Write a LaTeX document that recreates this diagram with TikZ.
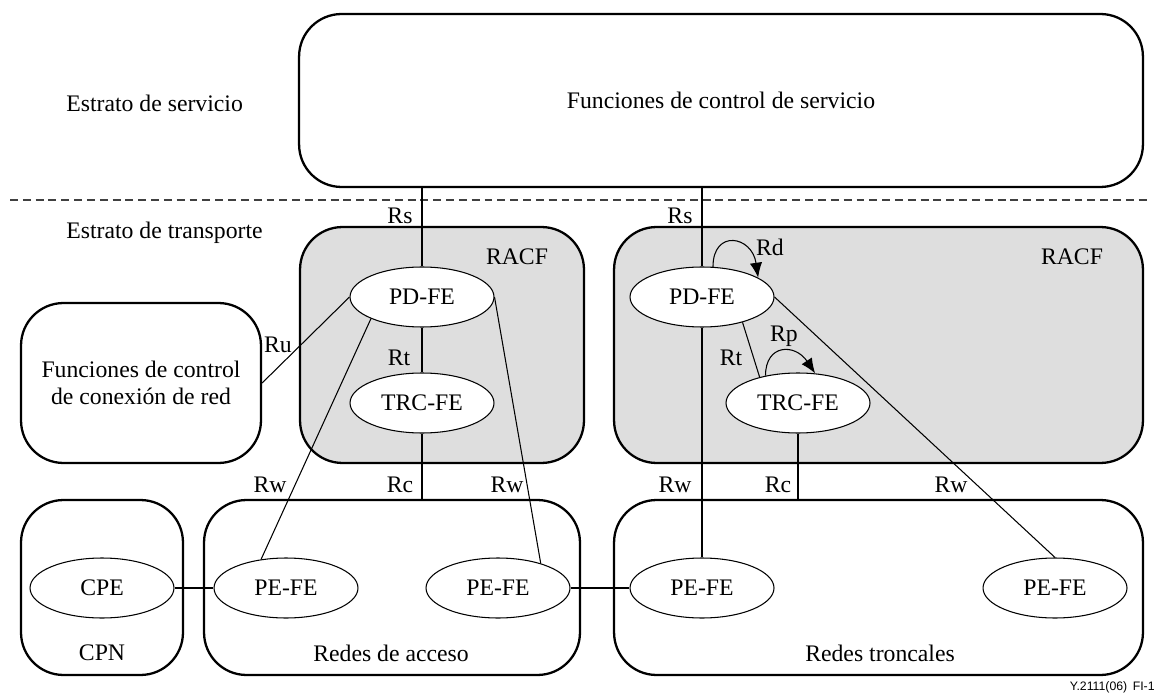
\documentclass[tikz,border=0pt]{standalone}
\usepackage{fontspec}
\setmainfont{Liberation Serif}
\newfontfamily\capfont{Liberation Sans}
\usetikzlibrary{arrows.meta,shapes.geometric}

\begin{document}
\begin{tikzpicture}[x=0.02cm,y=-0.02cm,
    font=\fontsize{13.5}{15.3}\selectfont,
    box/.style={draw,line width=1.3pt,rounded corners=0.85cm,inner sep=0pt},
    racf/.style={box,fill=black!13},
    fe/.style={draw,ellipse,line width=0.6pt,fill=white,minimum width=2.88cm,minimum height=1.2cm,inner sep=0pt},
    link/.style={line width=0.6pt},
    selfarc/.style={link,-{Latex[length=8.5pt,width=7pt]}},
    lbl/.style={inner sep=0pt}]
            \useasboundingbox (0,0) rectangle (1158,695);
            \draw [line width=0.6pt,black!75,dash pattern=on 4.5pt off 2.8pt] (10,200) -- (1148,200);
            \node [box,minimum width=16.88cm,minimum height=3.46cm] (SCF) at (721,100.5) {Funciones de control de servicio};
            \node [box,minimum width=4.8cm,minimum height=3.2cm,align=center] (NCF) at (141,383) {Funciones de control\\de conexión de red};
            \node [racf,minimum width=5.68cm,minimum height=4.72cm] (RACFL) at (442,345) {};
            \node [racf,minimum width=10.58cm,minimum height=4.72cm] (RACFR) at (878.5,345) {};
            \node [box,minimum width=3.24cm,minimum height=3.5cm] (CPN) at (102,587.5) {};
            \node [box,minimum width=7.52cm,minimum height=3.5cm] (RA) at (392,587.5) {};
            \node [box,minimum width=10.58cm,minimum height=3.5cm] (RT) at (878.5,587.5) {};
            \node [fe] (PDL) at (422,297) {PD-FE};
            \node [fe] (TRCL) at (422,403) {TRC-FE};
            \node [fe] (PDR) at (702,297) {PD-FE};
            \node [fe] (TRCR) at (798,403) {TRC-FE};
            \node [fe] (CPE) at (102,588) {CPE};
            \node [fe] (PEA) at (286,588) {PE-FE};
            \node [fe] (PEB) at (498,588) {PE-FE};
            \node [fe] (PEC) at (702,588) {PE-FE};
            \node [fe] (PED) at (1055,588) {PE-FE};
            \draw [link] (PDL.north) -- (PDL.north |- SCF.south);
            \draw [link] (PDR.north) -- (PDR.north |- SCF.south);
            \draw [link] (PDL) -- (TRCL);
            \draw [link] (TRCL.south) -- (TRCL.south |- RA.north);
            \draw [link] (TRCR.south) -- (TRCR.south |- RT.north);
            \draw [link] (PDR) -- (PEC);
            \draw [link] (PDR.-32) -- (TRCR.146);
            \draw [link] (PDR.east) -- (PED.north);
            \draw [link] (PDL.west) -- (NCF.east);
            \draw [link] (PDL.203) -- (PEA.131);
            \draw [link] (PDL.east) -- (PEB.30);
            \draw [link] (CPE) -- (PEA);
            \draw [link] (PEB) -- (PEC);
            \draw [selfarc] (PDR.70) .. controls +(0,-38) and +(-6,-42) .. (PDR.19);
            \draw [selfarc] (TRCR.140) .. controls +(0,-32) and +(-20,-30) .. (TRCR.60);
            \node [lbl,anchor=west] (SS) at (66,103) {Estrato de servicio};
            \node [lbl,anchor=west] (ST) at (66,233) {Estrato de transporte};
            \node [lbl] (RACFLt) at (517,257) {RACF};
            \node [lbl] (RACFRt) at (1072,257) {RACF};
            \node [lbl] (CPNt) at (102,653) {CPN};
            \node [lbl] (RAt) at (391,653) {Redes de acceso};
            \node [lbl] (RTt) at (880,653) {Redes troncales};
            \node [lbl] (RsL) at (400,216) {Rs};
            \node [lbl] (RsR) at (680,216) {Rs};
            \node [lbl] (RtL) at (399,358) {Rt};
            \node [lbl] (RtR) at (731,358) {Rt};
            \node [lbl] (Ru) at (278,345) {Ru};
            \node [lbl] (Rd) at (770,247) {Rd};
            \node [lbl] (Rp) at (784,336) {Rp};
            \node [lbl] (RwA) at (270,485) {Rw};
            \node [lbl] (RcL) at (400,485) {Rc};
            \node [lbl] (RwB) at (507,485) {Rw};
            \node [lbl] (RwC) at (675,485) {Rw};
            \node [lbl] (RcR) at (778,485) {Rc};
            \node [lbl] (RwD) at (951,485) {Rw};
            \node [lbl,anchor=south east,font=\capfont\fontsize{7}{8}\selectfont] (CAP) at (1155,693) {Y.2111(06)\, FI-1};
        \end{tikzpicture}
\end{document}
